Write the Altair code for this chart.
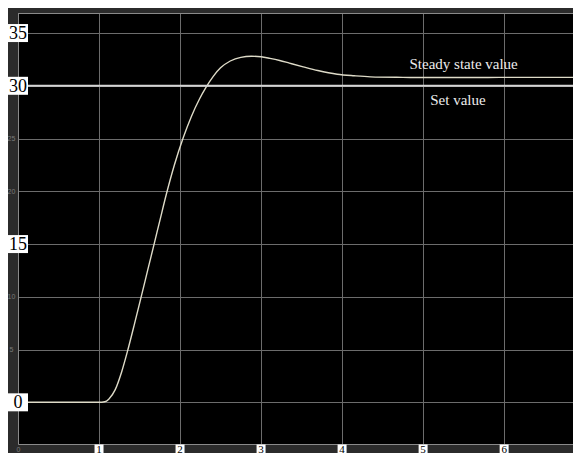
import altair as alt
import pandas as pd

# ---- data ----
time_s = [0, 0.5, 1.0, 1.07, 1.12, 1.2, 1.28, 1.35, 1.44, 1.53, 1.6, 1.68, 1.75,
          1.83, 1.93, 2.04, 2.14, 2.24, 2.32, 2.41, 2.5, 2.62, 2.75, 2.88, 3.0,
          3.11, 3.23, 3.35, 3.52, 3.7, 3.94, 4.15, 4.35, 4.75, 5.2, 5.6, 6.0,
          6.5, 6.85]
response = [0, 0, 0, 0.05, 0.3, 1.2, 2.9, 4.8, 7.5, 10.3, 12.5, 15, 17.2,
            19.7, 22.5, 25.1, 27.1, 28.75, 29.85, 30.9, 31.7, 32.35, 32.7, 32.8, 32.75,
            32.6, 32.4, 32.15, 31.8, 31.45, 31.1, 30.95, 30.85, 30.8, 30.78, 30.78, 30.8,
            30.8, 30.8]
set_value = [30]
y_ticks = [0, 5, 10, 15, 20, 25, 30, 35]
x_ticks = [0, 1, 2, 3, 4, 5, 6]
y_boxed = [35, 30, 15, 0]
x_boxed = [1, 2, 3, 4, 5, 6]
y_small = [25, 20, 10, 5]
x_small = [0]
notes = ["Steady state value", "Set value"]
note_x = [5.50, 5.43]
note_y = [31.58, 28.2]

W, H = 555, 431
GRID = "#6c6c6c"
xs = alt.Scale(domain=[0, 6.85], nice=False, zero=False)
ys = alt.Scale(domain=[-3.95, 36.9], nice=False, zero=False)

curve_df = pd.DataFrame({"t": time_s, "v": response})
set_df = pd.DataFrame({"v": set_value})
yb_df = pd.DataFrame({"v": y_boxed, "lab": [str(v) for v in y_boxed]})
xb_df = pd.DataFrame({"t": x_boxed, "lab": [str(v) for v in x_boxed]})
note_df = pd.DataFrame({"t": note_x, "v": note_y, "txt": notes})
one = pd.DataFrame({"k": [0]})

small_y = "indexof([" + ",".join(str(v) for v in y_small) + "], datum.value) >= 0 ? toString(datum.value) : ''"
small_x = "indexof([" + ",".join(str(v) for v in x_small) + "], datum.value) >= 0 ? toString(datum.value) : ''"

curve = alt.Chart(curve_df).mark_line(
    color="#dedbc8", strokeWidth=1.4, interpolate="monotone").encode(
    x=alt.X("t:Q", scale=xs, axis=alt.Axis(
        values=x_ticks, title=None, grid=True, gridColor=GRID, gridWidth=1,
        ticks=False, tickSize=0, domain=True, domainColor="#8a8a8a",
        labelExpr=small_x, labelColor="#7a7a7a", labelFontSize=7,
        labelPadding=1, labelFlush=False, labelBaseline="top",
        labelFont="Liberation Sans")),
    y=alt.Y("v:Q", scale=ys, axis=alt.Axis(
        values=y_ticks, title=None, grid=True, gridColor=GRID, gridWidth=1,
        ticks=False, tickSize=0, domain=True, domainColor="#8a8a8a",
        labelExpr=small_y, labelColor="#7a7a7a", labelFontSize=7,
        labelAlign="center", labelBaseline="middle", labelPadding=7,
        labelFont="Liberation Sans")),
)

top_border = alt.Chart(one).mark_rule(color="#8a8a8a", strokeWidth=1).encode(
    x=alt.value(0), x2=alt.value(W), y=alt.value(0.5))

set_line = alt.Chart(set_df).mark_rule(color="#d4d4d4", strokeWidth=2).encode(
    y=alt.Y("v:Q", scale=ys))

note_text = alt.Chart(note_df).mark_text(
    font="Liberation Serif", fontSize=15, color="#ececec", align="center",
    baseline="alphabetic").encode(
    x=alt.X("t:Q", scale=xs), y=alt.Y("v:Q", scale=ys), text="txt:N")

ybox = alt.Chart(yb_df).mark_point(
    shape="M-1,-0.9L1,-0.9L1,0.9L-1,0.9Z", size=400, filled=True,
    color="white", opacity=1, strokeWidth=0).encode(
    x=alt.value(0), y=alt.Y("v:Q", scale=ys))
ybox_text = alt.Chart(yb_df).mark_text(
    font="Liberation Serif", fontSize=18, color="black", align="center",
    baseline="middle", dy=1).encode(
    x=alt.value(0), y=alt.Y("v:Q", scale=ys), text="lab:N")

xbox = alt.Chart(xb_df).mark_point(
    shape="M-1,-1L1,-1L1,1L-1,1Z", size=81, filled=True,
    color="white", opacity=1, strokeWidth=0).encode(
    x=alt.X("t:Q", scale=xs), y=alt.value(H + 5))
xbox_text = alt.Chart(xb_df).mark_text(
    font="Liberation Serif", fontSize=11, color="black", align="center",
    baseline="alphabetic").encode(
    x=alt.X("t:Q", scale=xs), y=alt.value(H + 8.5), text="lab:N")

chart = alt.layer(
    curve, top_border, set_line, note_text, ybox, ybox_text, xbox, xbox_text
).properties(
    width=W, height=H,
    autosize=alt.AutoSizeParams(type="none"),
    padding={"left": 10, "top": 5, "right": 0, "bottom": 9},
    background="#2b2b2b",
).configure_view(fill="black", stroke="transparent")

chart.save("out.html", embed_options={"renderer": "svg", "actions": False})
